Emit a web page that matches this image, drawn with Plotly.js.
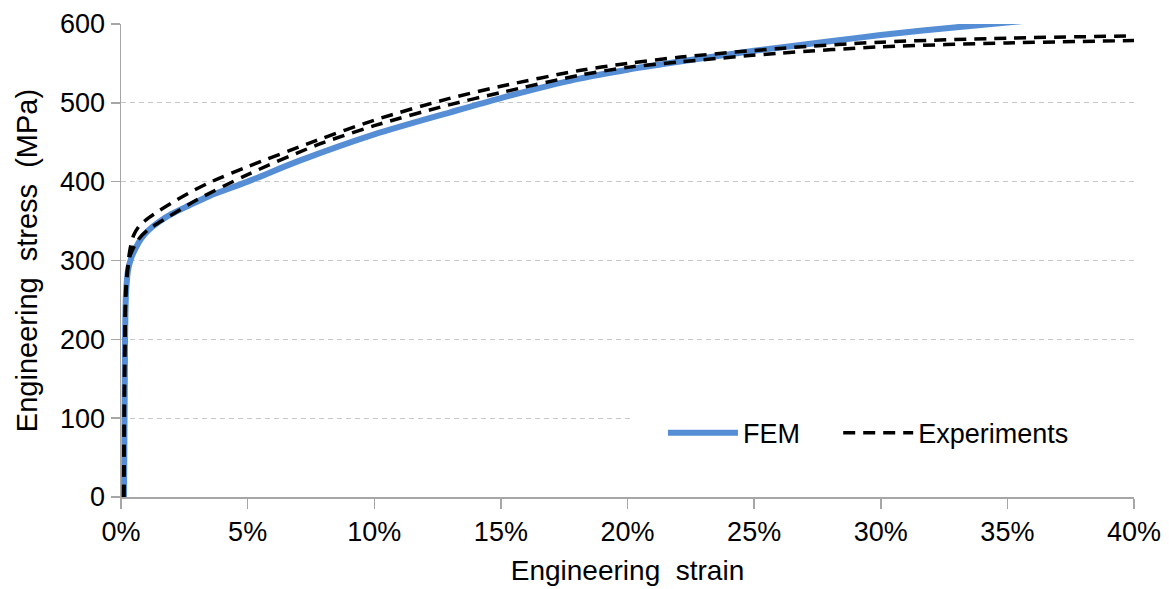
<!DOCTYPE html>
<html>
<head>
<meta charset="utf-8">
<script src="https://cdn.plot.ly/plotly-3.0.1.min.js"></script>
<style>html,body{margin:0;padding:0;background:#fff;}#chart{width:1169px;height:589px;}</style>
</head>
<body>
<div id="chart"></div>
<script>
// FEM curve (strain fraction, stress MPa)
const femStrain = [0.0012, 0.0016, 0.0020, 0.0028, 0.0040, 0.0060, 0.0080, 0.0107, 0.0150, 0.0200, 0.0270, 0.0350, 0.0500, 0.0700, 0.1000, 0.1300, 0.1500, 0.1800, 0.2000, 0.2200, 0.2500, 0.2800, 0.3000, 0.3300, 0.3600];
const femStress = [0, 200, 260, 288, 303, 317, 328, 338, 349, 359, 370, 382, 400, 426, 460, 488, 506, 530, 542, 552, 566, 578, 586, 596, 605];

// Experiment 1 (upper)
const exp1Strain = [0.0010, 0.0015, 0.0020, 0.0035, 0.0050, 0.0070, 0.0100, 0.0150, 0.0200, 0.0270, 0.0350, 0.0500, 0.0770, 0.1000, 0.1290, 0.1500, 0.1810, 0.2000, 0.2210, 0.2600, 0.3000, 0.3500, 0.4000];
const exp1Stress = [0, 200, 270, 313, 332, 343, 352, 363, 373, 386, 399, 419, 452, 478, 505, 521, 541, 550, 558, 569, 577, 582, 585];

// Experiment 2 (lower)
const exp2Strain = [0.0012, 0.0016, 0.0020, 0.0035, 0.0067, 0.0107, 0.0186, 0.0300, 0.0500, 0.0770, 0.1000, 0.1290, 0.1500, 0.1810, 0.2000, 0.2210, 0.2600, 0.3000, 0.3500, 0.4000];
const exp2Stress = [0, 200, 260, 305, 326, 339, 355, 377, 409, 446, 471, 497, 513, 535, 545, 552, 563, 571, 576, 579];

const seriesNames = ["FEM", "Experiments"];
const xTickVals = [0, 0.05, 0.10, 0.15, 0.20, 0.25, 0.30, 0.35, 0.40];
const yTickVals = [0, 100, 200, 300, 400, 500, 600];

const FONT = "Liberation Sans, Arial, sans-serif";
const dashStyle = "12px,8px";

const traces = [
  {x: femStrain, y: femStress, type: "scatter", mode: "lines", name: seriesNames[0], legend: "legend",
   line: {color: "#558ED5", width: 6, shape: "spline", smoothing: 0.8}},
  {x: exp1Strain, y: exp1Stress, type: "scatter", mode: "lines", name: seriesNames[1], legend: "legend2",
   line: {color: "#000000", width: 3.5, dash: dashStyle, shape: "spline", smoothing: 0.8}},
  {x: exp2Strain, y: exp2Stress, type: "scatter", mode: "lines", name: seriesNames[1], showlegend: false, legend: "legend2",
   line: {color: "#000000", width: 3.5, dash: dashStyle, shape: "spline", smoothing: 0.8}}
];

const legendCommon = {orientation: "h", xanchor: "left", y: 0.135, yanchor: "middle",
  bgcolor: "rgba(255,255,255,0)", font: {family: FONT, size: 27, color: "#000"}, itemwidth: 70};

const layout = {
  width: 1169, height: 589,
  margin: {l: 121, r: 35, t: 24, b: 92, pad: 0},
  paper_bgcolor: "#ffffff", plot_bgcolor: "#ffffff",
  font: {family: FONT, size: 27, color: "#000000"},
  showlegend: true,
  legend: Object.assign({}, legendCommon, {x: 0.535}),
  legend2: Object.assign({}, legendCommon, {x: 0.708}),
  xaxis: {range: [0, 0.4], tickvals: xTickVals, tickformat: ".0%", automargin: false,
          showgrid: false, zeroline: false, showline: true, linecolor: "#a6a6a6", linewidth: 1.5,
          ticks: "outside", ticklen: 10, tickcolor: "#a6a6a6", tickwidth: 1.5,
          tickfont: {family: FONT, size: 27, color: "#000"},
          title: {text: "Engineering  strain", font: {family: FONT, size: 28, color: "#000"}, standoff: 14},
          fixedrange: true},
  yaxis: {range: [0, 600], tickvals: yTickVals, automargin: false,
          showgrid: true, gridcolor: "#c8c8c8", gridwidth: 1, griddash: "5px,4px",
          zeroline: false, showline: true, linecolor: "#a6a6a6", linewidth: 1.5,
          ticks: "outside", ticklen: 9, tickcolor: "#a6a6a6", tickwidth: 1.5,
          tickfont: {family: FONT, size: 27, color: "#000"},
          title: {text: "Engineering  stress  (MPa)", font: {family: FONT, size: 29, color: "#000"}, standoff: 14},
          fixedrange: true},
  shapes: [
    {type: "rect", layer: "between", xref: "x", yref: "y", x0: 0.201, x1: 0.4, y0: 90, y1: 110,
     fillcolor: "#ffffff", line: {width: 0}}
  ]
};

Plotly.newPlot("chart", traces, layout, {displayModeBar: false, staticPlot: true});
</script>
</body>
</html>
